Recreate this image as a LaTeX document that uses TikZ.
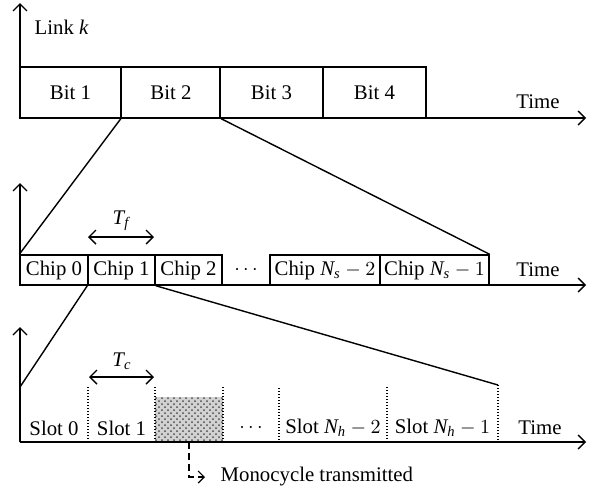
\documentclass[tikz,border=0pt]{standalone}
\usepackage{fontspec}
\setmainfont{Liberation Serif}
\usetikzlibrary{arrows.meta,patterns}

\begin{document}
\begin{tikzpicture}[x=0.5pt,y=-0.5pt,
  line width=0.7pt,
  every node/.style={font=\fontsize{10.4}{12}\selectfont, inner sep=0pt},
  cell/.style={draw, rectangle, minimum height=#1},
  bitcell/.style={cell=25.5pt},
  chipcell/.style={cell=15pt},
  axis/.style={-{Straight Barb[length=3.5pt,width=7pt]}},
  span/.style={{Straight Barb[length=3.5pt,width=7pt]}-{Straight Barb[length=3.5pt,width=7pt]}},
  slotline/.style={line width=0.7pt, dash pattern=on 0.6pt off 0.9pt},
  lbl/.style={anchor=center}]
\useasboundingbox (0,0) rectangle (597,488);

% ---------- link level: bits ----------
\coordinate (o1) at (20,118);
\draw[axis] (o1) -- (20,3);
\node[anchor=west] (link) at (34,27) {Link $\mathit{k}$};
\node[bitcell, minimum width=50.5pt] (bit1) at (70.5,92.5) {Bit 1};
\node[bitcell, minimum width=49.5pt] (bit2) at (171,92.5) {Bit 2};
\node[bitcell, minimum width=51.5pt] (bit3) at (271.5,92.5) {Bit 3};
\node[bitcell, minimum width=51.5pt] (bit4) at (374.5,92.5) {Bit 4};
\coordinate (e1) at (586,118);
\draw[axis] (o1) -- (e1);
\node (time1) at (538,102) {Time};

% ---------- frame level: chips ----------
\coordinate (o2) at (20,285);
\draw[axis] (o2) -- (20,183);
\node[chipcell, minimum width=34pt] (chip0) at (54,270) {Chip 0};
\node[chipcell, minimum width=33.5pt] (chip1) at (121.5,270) {Chip 1};
\node[chipcell, minimum width=33.5pt] (chip2) at (188.5,270) {Chip 2};
\node (cdots) at (246,270) {$\cdots$};
\node[chipcell, minimum width=55pt] (chipA) at (325,270) {Chip $\mathit{N}_{\mathit{s}}-2$};
\node[chipcell, minimum width=54.5pt] (chipB) at (434.5,270) {Chip $\mathit{N}_{\mathit{s}}-1$};
\coordinate (e2) at (586,285);
\draw[axis] (o2) -- (e2);
\node (time2) at (538,270) {Time};

% zoom of Bit 2 onto the chips
\draw (bit2.south west) -- (chip0.north west);
\draw (bit2.south east) -- (chipB.north east);

% chip duration
\coordinate (tfa) at (88,237);
\coordinate (tfb) at (154,237);
\draw[span] (tfa) -- (tfb);
\node (tf) at (121,221) {$\mathit{T}_{\mathit{f}}$};

% ---------- chip level: slots ----------
\coordinate (o3) at (20,442);
\draw[axis] (o3) -- (20,327);
\coordinate (s0) at (20,387);
\coordinate (s1) at (88,387);
\coordinate (s2) at (155,387);
\coordinate (s3) at (223,387);
\coordinate (s4) at (279,388);
\coordinate (s5) at (387,387);
\coordinate (s6) at (498,385);

% occupied slot
\path[preaction={fill=gray!35}, pattern=crosshatch dots, pattern color=gray!60!black]
  (155,397) rectangle (223,442);

\foreach \s in {s1,s2,s3,s4,s5,s6}
  \draw[slotline] (\s) -- (\s |- o3);

\coordinate (e3) at (586,442);
\draw[axis] (o3) -- (e3);

\node (slot0) at (54,428) {Slot 0};
\node (slot1) at (121.5,428) {Slot 1};
\node (sdots) at (251,428) {$\cdots$};
\node (slotA) at (333,428) {Slot $\mathit{N}_{\mathit{h}}-2$};
\node (slotB) at (442.5,428) {Slot $\mathit{N}_{\mathit{h}}-1$};
\node (time3) at (540,428) {Time};

% zoom of Chip 1 onto the slots
\draw (chip1.south west) -- (s0);
\draw (chip1.south east) -- (s6);

% slot duration
\coordinate (tca) at (89,377);
\coordinate (tcb) at (154,377);
\draw[span] (tca) -- (tcb);
\node (tc) at (122,361) {$\mathit{T}_{\mathit{c}}$};

% pulse marker
\coordinate (p0) at (189,442);
\node[anchor=west] (mono) at (220,477) {Monocycle transmitted};
\coordinate (p1) at (205,477);
\draw[dash pattern=on 3.5pt off 2pt, line width=0.6pt,
  -{Straight Barb[length=3pt,width=6pt]}] (p0) |- (p1);
\end{tikzpicture}
\end{document}
